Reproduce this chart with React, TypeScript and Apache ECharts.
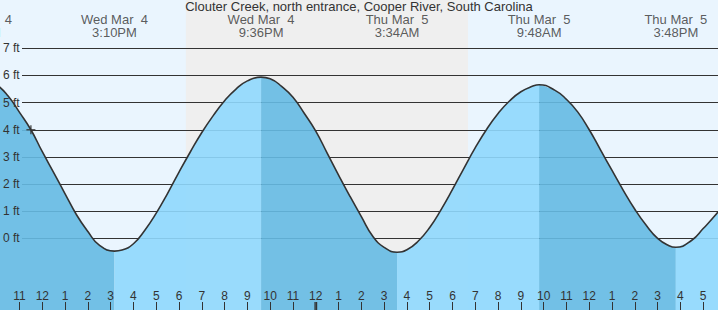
import React, { useEffect, useRef } from "react";
import * as echarts from "echarts";

const TITLE = "Clouter Creek, north entrance, Cooper River, South Carolina";

// Hours since Wed Mar 4, 00:00 and tide heights (ft)
const HOURS = [
  9.2, 9.5, 10, 10.5, 11, 11.5, 12, 12.5, 13, 13.5, 14, 14.5, 15.167,
  15.5, 16, 16.5, 17, 17.5, 18, 18.5, 19, 19.5, 20, 20.5, 21, 21.6,
  22, 22.5, 23, 23.5, 24, 24.5, 25, 25.5, 26, 26.5, 27, 27.567,
  28, 28.5, 29, 29.5, 30, 30.5, 31, 31.5, 32, 32.5, 33, 33.5, 33.8,
  34.5, 35, 35.5, 36, 36.5, 37, 37.5, 38, 38.5, 39, 39.5, 39.8,
  40.5, 41, 41.5, 42,
];
const HEIGHTS = [
  5.9, 5.86, 5.66, 5.24, 4.64, 4.0, 3.19, 2.42, 1.64, 0.87, 0.25, -0.25, -0.47,
  -0.43, -0.2, 0.3, 0.93, 1.66, 2.44, 3.19, 3.9, 4.52, 5.07, 5.5, 5.8, 5.94,
  5.88, 5.6, 5.2, 4.6, 3.95, 3.14, 2.33, 1.55, 0.8, 0.08, -0.33, -0.51,
  -0.42, -0.1, 0.4, 1.06, 1.8, 2.58, 3.34, 4.02, 4.6, 5.06, 5.4, 5.6, 5.66,
  5.45, 5.12, 4.65, 4.0, 3.25, 2.5, 1.76, 1.07, 0.48, 0.0, -0.27, -0.33,
  -0.07, 0.36, 0.82, 1.35,
];

// High / low tide events
const EVENT_HOURS = [9.2, 15.167, 21.6, 27.567, 33.8, 39.8];
const EVENT_DATES = ["Wed Mar  4", "Wed Mar  4", "Wed Mar  4", "Thu Mar  5", "Thu Mar  5", "Thu Mar  5"];
const EVENT_TIMES = ["9:12AM", "3:10PM", "9:36PM", "3:34AM", "9:48AM", "3:48PM"];

const SUNSET = 18.3;
const SUNRISE = 30.68;
const NOW_HOUR = 11.5;
const NOW_HEIGHT = 4.0;
const MIDNIGHT = 24;

const HOUR_TICKS = [11, 12, 13, 14, 15, 16, 17, 18, 19, 20, 21, 22, 23, 24, 25, 26, 27, 28, 29, 30, 31, 32, 33, 34, 35, 36, 37, 38, 39, 40, 41];
const FT_LEVELS = [0, 1, 2, 3, 4, 5, 6, 7];

const W = 718;
const H = 310;
const X_MIN = 10.144;
const X_MAX = 41.65;
const Y_MIN = -2.64;
const Y_MAX = 8.78;

const FONT = "'Liberation Sans', Arial, sans-serif";
const TEXT = "#333";
const DARK_FILL = "#65bae3";
const LIGHT_FILL = "#8fd8fd";

const xAt = (px: number) => X_MIN + (px / W) * (X_MAX - X_MIN);
const yAt = (px: number) => Y_MAX - (px / H) * (Y_MAX - Y_MIN);

function buildOption() {
  const pts = HOURS.map((h, i) => [h, HEIGHTS[i]]);
  const bounds = EVENT_HOURS.map((e) => HOURS.indexOf(e)).filter((i) => i >= 0);
  bounds.push(HOURS.length - 1);
  const fillSeries: any[] = [];
  for (let k = 0; k < bounds.length - 1; k++) {
    const a = bounds[k];
    const b = bounds[k + 1];
    const falling = HEIGHTS[a] > HEIGHTS[b];
    fillSeries.push({
      type: "line",
      data: pts.slice(a, b + 1),
      smooth: true,
      symbol: "none",
      silent: true,
      z: 2,
      lineStyle: { width: 0, opacity: 0 },
      areaStyle: { color: falling ? DARK_FILL : LIGHT_FILL, opacity: 0.9, origin: "start" },
    });
  }

  const gridStart = xAt(22);
  const gridLines = FT_LEVELS.map((v) => [{ coord: [gridStart, v] }, { coord: [X_MAX, v] }]);

  return {
    animation: false,
    backgroundColor: "#eaf5fe",
    textStyle: { fontFamily: FONT },
    title: {
      text: TITLE,
      left: "center",
      top: 0,
      padding: 0,
      textStyle: { fontSize: 13, fontWeight: "normal", color: TEXT, fontFamily: FONT },
    },
    grid: { left: 0, right: 0, top: 0, bottom: 0 },
    xAxis: {
      type: "value",
      min: X_MIN,
      max: X_MAX,
      z: 10,
      axisLine: { show: false, onZero: false },
      splitLine: { show: false },
      axisTick: { show: true, inside: true, length: 8, lineStyle: { color: TEXT, width: 1 }, customValues: HOUR_TICKS },
      axisLabel: {
        inside: true,
        margin: 8,
        color: TEXT,
        fontSize: 12,
        fontFamily: FONT,
        customValues: HOUR_TICKS,
        formatter: (v: number) => String(((Math.round(v) % 12) + 12) % 12 || 12),
      },
    },
    yAxis: {
      type: "value",
      min: Y_MIN,
      max: Y_MAX,
      z: 10,
      axisLine: { show: false, onZero: false },
      axisTick: { show: false },
      splitLine: { show: false },
      axisLabel: {
        inside: true,
        margin: 3,
        color: TEXT,
        fontSize: 12,
        fontFamily: FONT,
        customValues: FT_LEVELS,
        formatter: (v: number) => `${Math.round(v)} ft`,
      },
    },
    series: [
      {
        type: "line",
        data: [],
        silent: true,
        markArea: {
          silent: true,
          z: 0,
          itemStyle: { color: "#efefef" },
          data: [[{ xAxis: SUNSET }, { xAxis: SUNRISE }]],
        },
        markLine: {
          silent: true,
          z: 1,
          symbol: "none",
          animation: false,
          lineStyle: { color: "#333", width: 1, type: "solid" },
          label: { show: false },
          emphasis: { disabled: true },
          data: gridLines,
        },
      },
      ...fillSeries,
      {
        type: "line",
        data: pts,
        smooth: true,
        symbol: "none",
        silent: true,
        z: 3,
        lineStyle: { color: "#333", width: 1.6 },
      },
      {
        type: "scatter",
        silent: true,
        clip: false,
        z: 4,
        symbolSize: 1,
        itemStyle: { color: "transparent" },
        data: EVENT_HOURS.map((h) => [h, yAt(26.3)]),
        label: {
          show: true,
          position: "inside",
          formatter: (p: any) => `${EVENT_DATES[p.dataIndex]}\n${EVENT_TIMES[p.dataIndex]}`,
          color: TEXT,
          fontSize: 13,
          lineHeight: 13,
          fontFamily: FONT,
          align: "center",
          verticalAlign: "middle",
        },
      },
      {
        type: "scatter",
        silent: true,
        clip: false,
        z: 5,
        data: [
          {
            value: [NOW_HOUR, NOW_HEIGHT],
            symbol: "path://M4.2,0H5.8V4.2H10V5.8H5.8V10H4.2V5.8H0V4.2H4.2Z",
            symbolSize: 9,
            itemStyle: { color: "#333" },
          },
          {
            value: [MIDNIGHT, yAt(306)],
            symbol: "rect",
            symbolSize: [3, 8],
            itemStyle: { color: "#333" },
          },
        ],
      },
    ],
  };
}

export default function App() {
  const ref = useRef<HTMLDivElement>(null);
  useEffect(() => {
    const chart = echarts.init(ref.current!, null, { renderer: "svg", width: W, height: H });
    chart.setOption(buildOption() as any);
    return () => chart.dispose();
  }, []);
  return <div ref={ref} style={{ position: "fixed", left: 0, top: 0, width: W, height: H }} />;
}
